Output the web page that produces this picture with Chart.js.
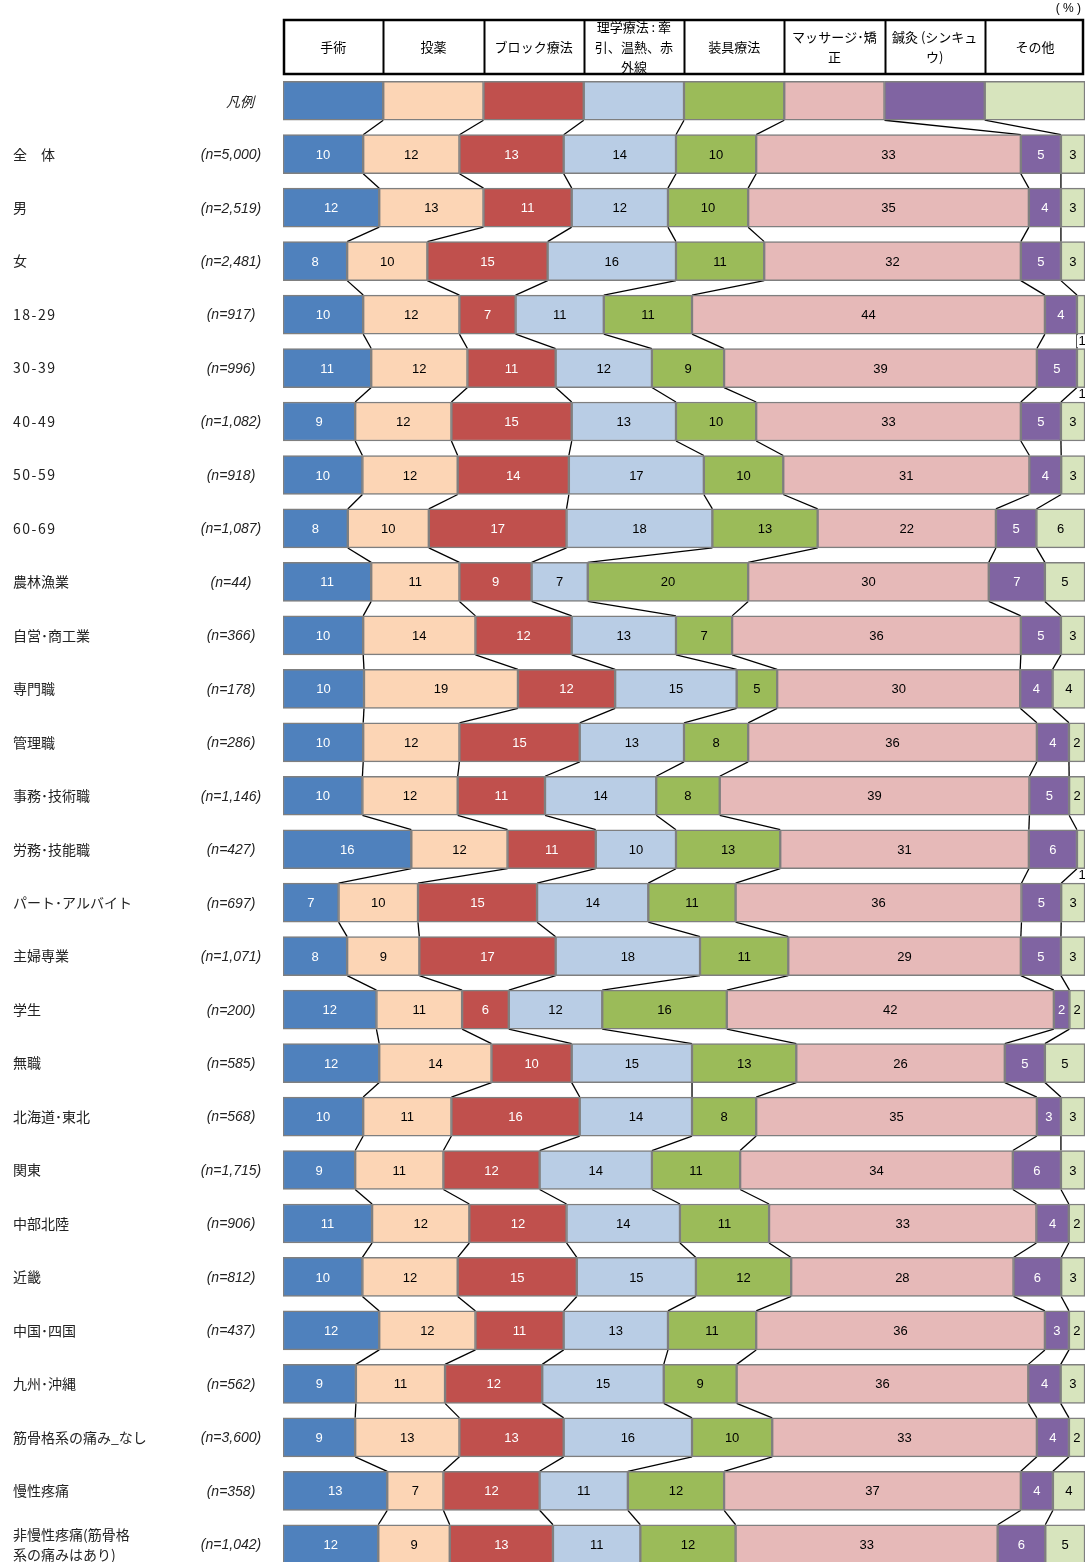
<!DOCTYPE html>
<html lang="ja">
<head>
<meta charset="UTF-8">
<title>治療の内訳</title>
<script src="https://cdn.jsdelivr.net/npm/chart.js"></script>
<style>
  html, body { margin: 0; padding: 0; background: #fff; overflow: hidden; }
  canvas { display: block; }
</style>
</head>
<body>
<canvas id="treatmentChart" width="1085" height="1580"></canvas>
<script>
// series (columns of the header table)
const seriesNames = ['手術', '投薬', 'ブロック療法', '理学療法：牽引、温熱、赤外線', '装具療法', 'マッサージ・矯正', '鍼灸（シンキュウ）', 'その他'];
const headerLines = [['手術'], ['投薬'], ['ブロック療法'], ['理学療法 : 牽', '引、温熱、赤', '外線'], ['装具療法'], ['マッサージ･矯', '正'], ['鍼灸 (シンキュ', 'ウ)'], ['その他']];
const seriesColors = ['#4f81bd', '#fcd5b5', '#c0504d', '#b9cde5', '#9bbb59', '#e6b9b8', '#8064a2', '#d7e4bd'];
const labelColors = ['#fff', '#000', '#fff', '#000', '#000', '#000', '#fff', '#000'];

// rows
const rowNames = ['', '全　体', '男', '女', '18-29', '30-39', '40-49', '50-59', '60-69',
  '農林漁業', '自営･商工業', '専門職', '管理職', '事務･技術職', '労務･技能職', 'パート･アルバイト',
  '主婦専業', '学生', '無職', '北海道･東北', '関東', '中部北陸', '近畿', '中国･四国', '九州･沖縄',
  '筋骨格系の痛み_なし', '慢性疼痛', '非慢性疼痛(筋骨格\n系の痛みはあり)'];
const sampleSizes = ['凡例', '(n=5,000)', '(n=2,519)', '(n=2,481)', '(n=917)', '(n=996)', '(n=1,082)', '(n=918)', '(n=1,087)',
  '(n=44)', '(n=366)', '(n=178)', '(n=286)', '(n=1,146)', '(n=427)', '(n=697)',
  '(n=1,071)', '(n=200)', '(n=585)', '(n=568)', '(n=1,715)', '(n=906)', '(n=812)', '(n=437)', '(n=562)',
  '(n=3,600)', '(n=358)', '(n=1,042)'];

// values (%) per series, rows 全体 .. 非慢性疼痛
const surgery     = [10, 12, 8, 10, 11, 9, 10, 8, 11, 10, 10, 10, 10, 16, 7, 8, 12, 12, 10, 9, 11, 10, 12, 9, 9, 13, 12];
const medication  = [12, 13, 10, 12, 12, 12, 12, 10, 11, 14, 19, 12, 12, 12, 10, 9, 11, 14, 11, 11, 12, 12, 12, 11, 13, 7, 9];
const block       = [13, 11, 15, 7, 11, 15, 14, 17, 9, 12, 12, 15, 11, 11, 15, 17, 6, 10, 16, 12, 12, 15, 11, 12, 13, 12, 13];
const physio      = [14, 12, 16, 11, 12, 13, 17, 18, 7, 13, 15, 13, 14, 10, 14, 18, 12, 15, 14, 14, 14, 15, 13, 15, 16, 11, 11];
const orthosis    = [10, 10, 11, 11, 9, 10, 10, 13, 20, 7, 5, 8, 8, 13, 11, 11, 16, 13, 8, 11, 11, 12, 11, 9, 10, 12, 12];
const massage     = [33, 35, 32, 44, 39, 33, 31, 22, 30, 36, 30, 36, 39, 31, 36, 29, 42, 26, 35, 34, 33, 28, 36, 36, 33, 37, 33];
const acupuncture = [5, 4, 5, 4, 5, 5, 4, 5, 7, 5, 4, 4, 5, 6, 5, 5, 2, 5, 3, 6, 4, 6, 3, 4, 4, 4, 6];
const other       = [3, 3, 3, 1, 1, 3, 3, 6, 5, 3, 4, 2, 2, 1, 3, 3, 2, 5, 3, 3, 2, 3, 2, 3, 2, 4, 5];

// legend row: equal parts
const legendRow = [1, 1, 1, 1, 1, 1, 1, 1];

const allSeries = [surgery, medication, block, physio, orthosis, massage, acupuncture, other];

// 100% stacked: each row is scaled to its own total, labels keep the raw value
const rowTotals = surgery.map((_, r) => allSeries.reduce((s, arr) => s + arr[r], 0));
const legendTotal = legendRow.reduce((a, b) => a + b, 0);

const datasets = allSeries.map((arr, i) => ({
  label: seriesNames[i],
  data: [legendRow[i] / legendTotal * 100].concat(arr.map((v, r) => v / rowTotals[r] * 100)),
  rawValues: [null].concat(arr),
  backgroundColor: seriesColors[i],
  borderColor: '#7f7f7f',
  borderWidth: 1.5,
  borderSkipped: false,
  barThickness: 39
}));

const JP = "'Noto Sans CJK JP', 'Noto Sans', sans-serif";
const NUM = "'Liberation Sans', Arial, sans-serif";

// lines joining the segment ends of neighbouring bars
const seriesLines = {
  id: 'seriesLines',
  beforeDatasetsDraw(chart) {
    const ctx = chart.ctx;
    ctx.save();
    ctx.strokeStyle = '#000';
    ctx.lineWidth = 1.3;
    for (let i = 0; i < datasets.length - 1; i++) {
      const bars = chart.getDatasetMeta(i).data;
      for (let r = 0; r < bars.length - 1; r++) {
        const a = bars[r], b = bars[r + 1];
        ctx.beginPath();
        ctx.moveTo(a.x, a.y + a.height / 2);
        ctx.lineTo(b.x, b.y - b.height / 2);
        ctx.stroke();
      }
    }
    ctx.restore();
  }
};

// value labels inside the segments
const valueLabels = {
  id: 'valueLabels',
  afterDatasetsDraw(chart) {
    const ctx = chart.ctx;
    ctx.save();
    ctx.font = '13px ' + NUM;
    ctx.textAlign = 'center';
    ctx.textBaseline = 'middle';
    chart.data.datasets.forEach((ds, i) => {
      chart.getDatasetMeta(i).data.forEach((bar, r) => {
        const v = ds.rawValues[r];
        if (v === null) return;
        const cx = (bar.x + bar.base) / 2;
        if (v <= 1) {
          // too narrow: put it just under the bar
          const ty = bar.y + bar.height / 2 + 7;
          ctx.fillStyle = '#fff';
          ctx.fillRect(cx - 4, ty - 6, 9, 12);
          ctx.fillStyle = '#000';
          ctx.fillText(String(v), cx + 1, ty);
        } else {
          ctx.fillStyle = labelColors[i];
          ctx.fillText(String(v), cx, bar.y + 1);
        }
      });
    });
    ctx.restore();
  }
};

// header table, row names and sample sizes
const frame = {
  id: 'frame',
  afterDraw(chart) {
    const ctx = chart.ctx;
    const x = chart.scales.x, y = chart.scales.y;
    const top = 20, bottom = 74;
    ctx.save();

    ctx.font = '12px ' + NUM;
    ctx.fillStyle = '#000';
    ctx.textAlign = 'right';
    ctx.textBaseline = 'middle';
    ctx.fillText('( % )', 1081, 9);

    ctx.font = '13px ' + JP;
    ctx.textAlign = 'center';
    headerLines.forEach((lines, i) => {
      const l = x.getPixelForValue(i * 12.5), rgt = x.getPixelForValue((i + 1) * 12.5);
      ctx.save();
      ctx.beginPath();
      ctx.rect(l, top, rgt - l, bottom - top);
      ctx.clip();
      const mid = (top + bottom) / 2;
      lines.forEach((t, k) => {
        ctx.fillText(t, (l + rgt) / 2, mid + (k - (lines.length - 1) / 2) * 20);
      });
      ctx.restore();
    });
    ctx.strokeStyle = '#000';
    ctx.lineWidth = 2;
    for (let i = 1; i < 8; i++) {
      const px = Math.round(x.getPixelForValue(i * 12.5)) + 0.5;
      ctx.beginPath();
      ctx.moveTo(px, top);
      ctx.lineTo(px, bottom);
      ctx.stroke();
    }
    ctx.lineWidth = 2.5;
    ctx.strokeRect(x.left + 1, top, x.right - x.left - 3, bottom - top);

    rowNames.forEach((name, r) => {
      const cy = y.getPixelForValue(r);
      ctx.fillStyle = '#222';
      ctx.font = '14px ' + JP;
      ctx.textAlign = 'left';
      ctx.letterSpacing = /^[\x20-\x7e]+$/.test(name) ? '1.5px' : '0px';
      const lines = name.split('\n');
      lines.forEach((t, k) => {
        ctx.fillText(t, 13, cy + (k - (lines.length - 1) / 2) * 20);
      });
      ctx.letterSpacing = '0px';
      ctx.font = 'italic 14px ' + (r === 0 ? JP : NUM);
      ctx.textAlign = 'center';
      ctx.fillText(sampleSizes[r], r === 0 ? 240 : 231, cy + 1);
    });
    ctx.restore();
  }
};

new Chart(document.getElementById('treatmentChart').getContext('2d'), {
  type: 'bar',
  data: { labels: rowNames, datasets: datasets },
  options: {
    indexAxis: 'y',
    responsive: false,
    animation: false,
    layout: { padding: { left: 283, right: 0, top: 74, bottom: 9 } },
    scales: {
      x: { stacked: true, min: 0, max: 100, display: false },
      y: { stacked: true, display: false }
    },
    plugins: {
      legend: { display: false },
      tooltip: { enabled: false }
    }
  },
  plugins: [seriesLines, valueLabels, frame]
});
</script>
</body>
</html>
